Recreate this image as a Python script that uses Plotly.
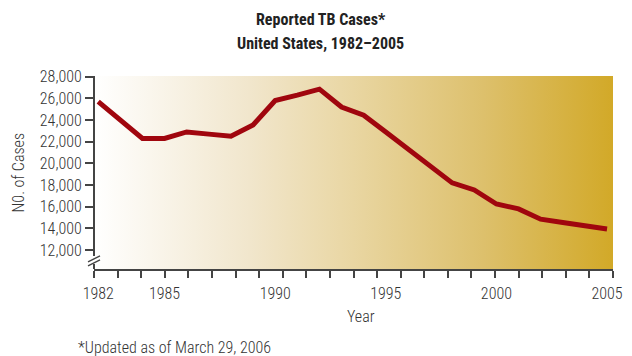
import plotly.graph_objects as go

years = list(range(1982, 2006))
cases = [25700, 24000, 22300, 22300, 22900, 22700, 22500, 23550, 25800, 26300,
         26850, 25200, 24450, 22900, 21350, 19800, 18200, 17550, 16250, 15800,
         14850, 14550, 14250, 13950]
tick_years = [1982, 1985, 1990, 1995, 2000, 2005]
y_ticks = [12000, 14000, 16000, 18000, 20000, 22000, 24000, 26000, 28000]

XR = [1981.81, 2005.27]
YR = [10250, 28065]
AX = "#444444"
TXT = "#333333"
FONT = "Roboto Condensed, Liberation Sans, Arial, sans-serif"
TFONT = "Roboto Condensed, Liberation Sans, Arial, sans-serif"

fig = go.Figure()

# gradient background
fig.add_trace(go.Scatter(
    x=[XR[0], XR[1], XR[1], XR[0], XR[0]],
    y=[YR[0], YR[0], YR[1], YR[1], YR[0]],
    mode="none", fill="toself",
    fillgradient=dict(type="horizontal",
                      colorscale=[[0, "#FFFFFF"], [0.3, "#F1E6CC"], [0.5, "#E9D6A2"],
                                  [0.75, "#DDC06C"], [1, "#D2A928"]]),
    hoverinfo="skip", showlegend=False))

fig.add_trace(go.Scatter(x=years, y=cases, mode="lines",
                         line=dict(color="#A0060E", width=5),
                         showlegend=False))

# invisible trace for the decorative tick axis
fig.add_trace(go.Scatter(x=[0, 22], y=[YR[0], YR[0]], xaxis="x2", mode="none",
                         showlegend=False, hoverinfo="skip"))

fig.update_layout(
    width=632, height=356,
    margin=dict(l=94, r=9, t=76, b=87),
    paper_bgcolor="white", plot_bgcolor="rgba(0,0,0,0)",
    font=dict(family=FONT, size=16, color=TXT, weight=300),
    xaxis=dict(range=XR, tickvals=tick_years, ticktext=[str(t) for t in tick_years],
               ticks="outside", ticklen=10, tickcolor="rgba(0,0,0,0)",
               ticklabeloverflow="allow",
               showgrid=False, zeroline=False, showline=False,
               tickfont=dict(size=16, color=TXT, weight=300)),
    xaxis2=dict(range=[0, 22], overlaying="x", anchor="y", side="bottom",
                tickmode="linear", tick0=0, dtick=1, ticks="outside", ticklen=7,
                tickwidth=1.5, tickcolor=AX, showticklabels=False, showgrid=False,
                zeroline=False, showline=True, linecolor=AX, linewidth=2),
    yaxis=dict(range=YR, tickvals=y_ticks, ticktext=[f"{v:,}" for v in y_ticks],
               ticks="outside", ticklen=8, tickwidth=1.5, tickcolor=AX,
               showgrid=False, zeroline=False, showline=False,
               tickfont=dict(size=16, color=TXT, weight=300)),
    shapes=[
        dict(type="line", xref="paper", yref="y", x0=0, x1=0, y0=11450, y1=YR[1],
             line=dict(color=AX, width=2)),
        dict(type="line", xref="paper", yref="y", x0=0, x1=0, y0=YR[0], y1=10720,
             line=dict(color=AX, width=2)),
        dict(type="line", xref="paper", xsizemode="pixel", xanchor=0, x0=-6, x1=6,
             yref="y", ysizemode="pixel", yanchor=11000, y0=-1, y1=5,
             line=dict(color=AX, width=1.5)),
        dict(type="line", xref="paper", xsizemode="pixel", xanchor=0, x0=-6, x1=6,
             yref="y", ysizemode="pixel", yanchor=11000, y0=-5, y1=1,
             line=dict(color=AX, width=1.5)),
    ],
    annotations=[
        dict(text="<b>Reported TB Cases*</b>", xref="paper", yref="paper",
             x=(325 - 94) / 529, y=1, yshift=57, yanchor="middle", showarrow=False,
             font=dict(family=TFONT, size=16, color="#222222")),
        dict(text="<b>United States, 1982–2005</b>", xref="paper", yref="paper",
             x=(325 - 94) / 529, y=1, yshift=33, yanchor="middle", showarrow=False,
             font=dict(family=TFONT, size=16, color="#222222")),
        dict(text="N0. of Cases", xref="paper", yref="paper", x=0, xshift=-76,
             xanchor="center", y=0.5, yanchor="middle", textangle=-90,
             showarrow=False, font=dict(size=16, color=TXT, weight=300)),
        dict(text="Year", xref="paper", yref="paper", x=(366 - 94) / 529,
             xanchor="center", y=0, yshift=-47, yanchor="middle",
             showarrow=False, font=dict(size=16, color=TXT, weight=300)),
        dict(text="*Updated as of March 29, 2006", xref="paper", yref="paper",
             x=(76 - 94) / 529, xanchor="left", y=0, yshift=-78, yanchor="middle",
             showarrow=False, font=dict(size=16, color=TXT, weight=300)),
    ],
)

fig.write_html("out.html")
